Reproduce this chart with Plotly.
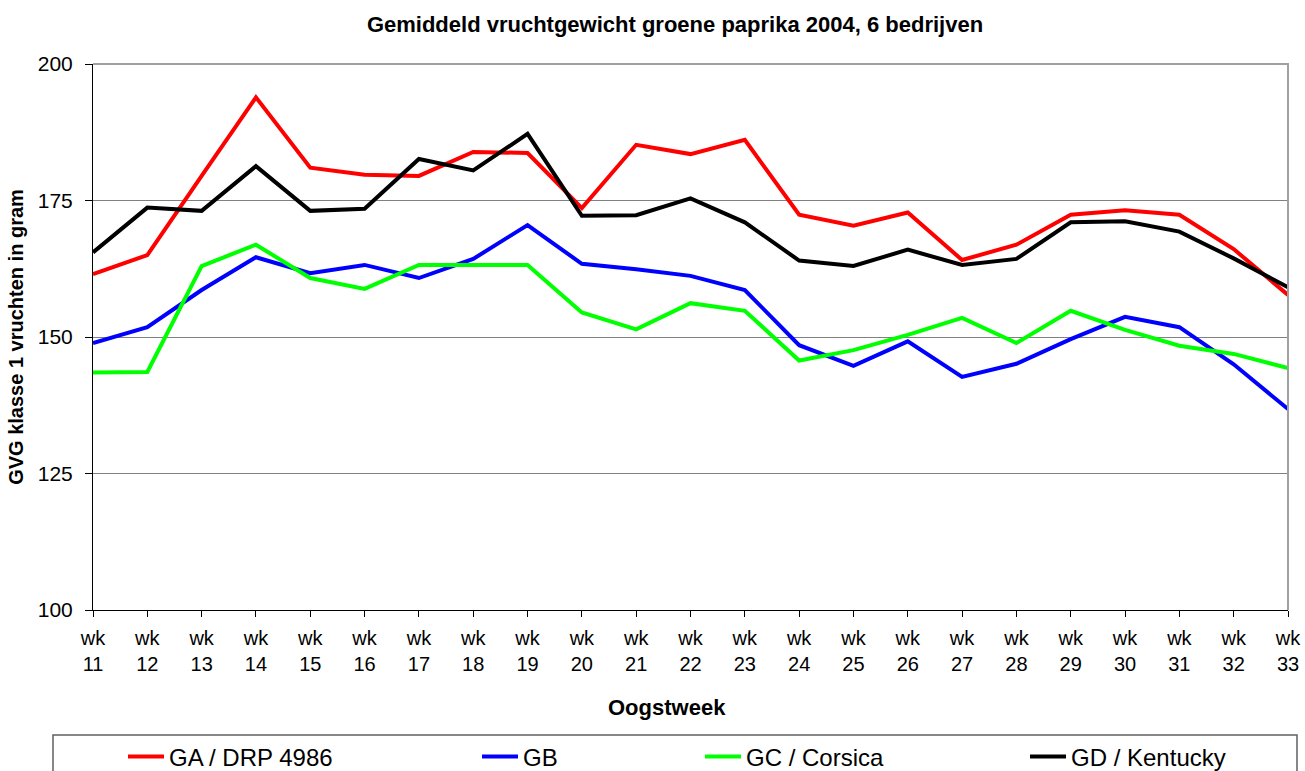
import plotly.graph_objects as go

weeks = list(range(11, 34))
week_labels = [f"wk<br>{w}" for w in weeks]

series_names = ["GA / DRP 4986", "GB", "GC / Corsica", "GD / Kentucky"]
ga = [161.5, 165.0, 179.5, 193.9, 181.0, 179.7, 179.5, 183.9, 183.7, 173.6, 185.2, 183.5,
      186.1, 172.4, 170.4, 172.8, 164.1, 166.9, 172.4, 173.2, 172.4, 166.1, 157.7]
gb = [148.9, 151.8, 158.6, 164.6, 161.7, 163.2, 160.8, 164.3, 170.5, 163.4, 162.4, 161.2,
      158.6, 148.5, 144.7, 149.2, 142.7, 145.1, 149.6, 153.7, 151.8, 145.0, 136.8]
gc = [143.5, 143.6, 163.0, 166.9, 160.8, 158.8, 163.2, 163.2, 163.2, 154.5, 151.4, 156.2,
      154.8, 145.7, 147.6, 150.4, 153.5, 148.9, 154.8, 151.3, 148.4, 146.9, 144.3]
gd = [165.5, 173.7, 173.1, 181.3, 173.1, 173.5, 182.6, 180.5, 187.2, 172.2, 172.3, 175.4,
      171.0, 164.0, 163.0, 166.0, 163.2, 164.3, 171.0, 171.2, 169.3, 164.4, 159.1]
y_ticks = [100, 125, 150, 175, 200]

colors = ["#FF0000", "#0000FF", "#00FF00", "#000000"]
values = [ga, gb, gc, gd]
legend_ids = ["legend", "legend2", "legend3", "legend4"]

W, H = 1305, 771
# plot area in window pixels
PX0, PX1, PY0, PY1 = 93, 1288, 64, 610
ML, MR = PX0, W - PX1
MT, MB = PY0, H - PY1
PW = PX1 - PX0
PH = PY1 - PY0

def px_to_xpaper(px):
    return (px - PX0) / PW

def py_to_ypaper(py):
    return (PY1 - py) / PH

FONT = "Liberation Sans, Arial, sans-serif"

fig = go.Figure()
for name, vals, col, lg in zip(series_names, values, colors, legend_ids):
    fig.add_trace(go.Scatter(
        x=weeks, y=vals, mode="lines", name=name,
        line=dict(color=col, width=4),
        legend=lg,
    ))

swatch_starts = [128, 482, 705, 1030]
legend_layout = {}
for lg, sx in zip(legend_ids, swatch_starts):
    legend_layout[lg] = dict(
        x=px_to_xpaper(sx - 5), y=py_to_ypaper(757),
        xanchor="left", yanchor="middle",
        orientation="h", bgcolor="rgba(0,0,0,0)", borderwidth=0,
        itemwidth=36,
        font=dict(family=FONT, size=24, color="black"),
    )

fig.update_layout(
    width=W, height=H,
    margin=dict(l=ML, r=MR, t=MT, b=MB, autoexpand=False),
    paper_bgcolor="white", plot_bgcolor="white",
    font=dict(family=FONT, color="black"),
    title=dict(
        text="<b>Gemiddeld vruchtgewicht groene paprika 2004, 6 bedrijven</b>",
        x=675 / W, xanchor="center", xref="container",
        y=1 - 24 / H, yanchor="middle", yref="container",
        font=dict(family=FONT, size=22, color="black"),
    ),
    xaxis=dict(
        range=[weeks[0], weeks[-1]],
        tickmode="array", tickvals=weeks, ticktext=week_labels,
        ticks="outside", ticklen=6, tickcolor="black", tickwidth=1,
        showline=True, linecolor="black", linewidth=1,
        showgrid=False, zeroline=False, automargin=False,
        tickfont=dict(family=FONT, size=20, color="black"),
        ticklabelstandoff=4,
    ),
    yaxis=dict(
        range=[100, 200],
        tickmode="array", tickvals=y_ticks,
        ticks="outside", ticklen=7, tickcolor="black", tickwidth=1,
        showline=True, linecolor="black", linewidth=1,
        showgrid=True, gridcolor="#808080", gridwidth=1,
        zeroline=False, automargin=False,
        tickfont=dict(family=FONT, size=21, color="black"),
        ticklabelstandoff=8,
        title=dict(text="<b>GVG klasse 1 vruchten in gram</b>",
                   font=dict(family=FONT, size=20, color="black"), standoff=8),
    ),
    showlegend=True,
    **legend_layout,
)

fig.add_annotation(
    text="<b>Oogstweek</b>", xref="paper", yref="paper",
    x=px_to_xpaper(667), y=py_to_ypaper(707),
    xanchor="center", yanchor="middle", showarrow=False,
    font=dict(family=FONT, size=22, color="black"),
)

# plot area border (top and right)
fig.add_shape(type="path", xref="paper", yref="paper",
              path="M 0 1 L 1 1 L 1 0",
              line=dict(color="#a0a0a0", width=2), layer="above")
# legend box
fig.add_shape(type="rect", xref="paper", yref="paper",
              x0=px_to_xpaper(53), x1=px_to_xpaper(1297),
              y0=py_to_ypaper(735), y1=py_to_ypaper(790),
              line=dict(color="#606060", width=1.5), fillcolor="rgba(0,0,0,0)")

fig.write_html(
    "out.html",
    config={"displayModeBar": False},
    post_script="document.body.style.margin='0';document.body.style.overflow='hidden';",
)
